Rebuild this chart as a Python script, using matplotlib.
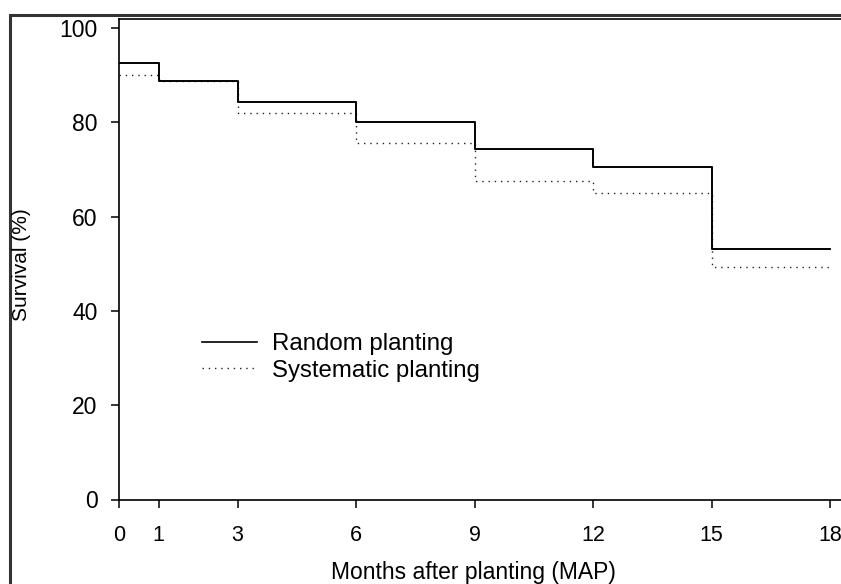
import matplotlib
matplotlib.use("Agg")
import matplotlib.pyplot as plt
from matplotlib.patches import Rectangle

# survival data
months = [0, 1, 3, 6, 9, 12, 15, 18]
random_planting = [92.6, 88.8, 84.4, 80.0, 74.4, 70.6, 53.1, 53.1]
systematic_planting = [90.0, 88.8, 81.9, 75.6, 67.6, 64.9, 49.3, 49.3]
xticks = [0, 1, 3, 6, 9, 12, 15, 18]
yticks = [0, 20, 40, 60, 80, 100]

plt.rcParams['font.family'] = ['Liberation Sans', 'DejaVu Sans']

W, H = 841, 584
fig = plt.figure(figsize=(W / 100, H / 100), dpi=100)
fig.patch.set_facecolor('white')

# outer frame (cropped on right/bottom)
fig.patches.append(Rectangle((10 / W, -0.1), 1.2, 1 - 15 / H + 0.1, transform=fig.transFigure,
                             fill=False, edgecolor='#333333', linewidth=2.2, zorder=0))

ax = fig.add_axes([119 / W, (H - 499.5) / H, 18.5 * 39.5 / W, 480.5 / H])
ax.set_xlim(0, 18.5)
ax.set_ylim(0, 101.9)

ax.step(months, random_planting, where='post', color='black', lw=1.2, label='Random planting')
ax.step(months, systematic_planting, where='post', color='#222222', lw=1.0,
        linestyle=(0, (1, 3.5)), label='Systematic planting')
# redraw solid on top
ax.step(months, random_planting, where='post', color='black', lw=1.2)

for s in ax.spines.values():
    s.set_linewidth(1.2)
ax.tick_params(direction='out', length=6, width=1.1)
ax.set_xticks(xticks)
ax.set_yticks(yticks)
ax.set_yticklabels([str(v) for v in yticks], fontsize=16.5)
ax.set_xticklabels([str(v) for v in xticks], fontsize=15.5)
ax.tick_params(axis='y', pad=9.5)
ax.tick_params(axis='x', pad=12.5)

fig.text(22 / W, 1 - 265 / H, 'Survival (%)', rotation=90, ha='center', va='center', fontsize=15)
fig.text(473 / W, 1 - 572 / H, 'Months after planting (MAP)', ha='center', va='center',
         fontsize=16.5)

leg = ax.legend(loc='upper left', bbox_to_anchor=(202 / W, 1 - 333 / H), bbox_transform=fig.transFigure,
                frameon=False, fontsize=17.3, handlelength=2.3, handletextpad=0.6,
                labelspacing=0.2, borderpad=0, borderaxespad=0)

fig.savefig('out.png', dpi=100)
